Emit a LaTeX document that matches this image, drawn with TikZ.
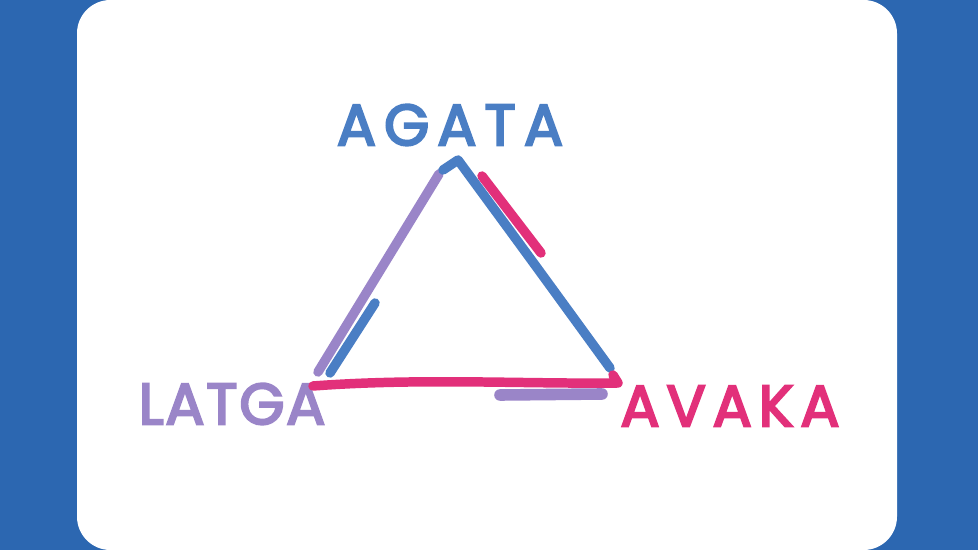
\documentclass[tikz,border=0pt]{standalone}
\usepackage{fontspec}
\usepackage{xcolor}
\usetikzlibrary{positioning}
\newfontfamily\markerfont[FakeBold=3.8]{Poppins}
\definecolor{bgblue}{RGB}{44,103,177}
\definecolor{penblue}{RGB}{74,126,196}
\definecolor{penpurple}{RGB}{154,133,200}
\definecolor{penpink}{RGB}{226,48,122}

\begin{document}
\begin{tikzpicture}[x=0.02cm, y=-0.02cm,
  stroke/.style={line width=5.4pt, line cap=round, line join=round},
  word/.style={font=\markerfont\fontsize{33}{36}\selectfont, inner sep=0pt}]
  % card
  \fill[bgblue] (0,0) rectangle (978,550);
  \fill[white, rounded corners=19pt] (77,0) rectangle (897,550);
  \useasboundingbox (0,0) rectangle (978,550);
  % corners of the triangle
  \coordinate (top) at (458,160);
  \coordinate (left) at (316,384);
  \coordinate (right) at (612,380);
  % labels
  \node[word, text=penblue] (agata) at (450,125) {\addfontfeature{LetterSpace=14}AGATA};
  \node[word, text=penpurple] (latga) at (232,404) {\addfontfeature{LetterSpace=3}LATGA};
  \node[word, text=penpink] (avaka) at (730,406) {\addfontfeature{LetterSpace=12}AVAKA};
  % sides
  \draw[stroke, penpurple] (439,174) -- (318,372);
  \draw[stroke, penblue] (375,303) -- (330,373);
  \draw[stroke, penblue] (443,170) -- (top) .. controls (530,258) .. (610,368);
  \draw[stroke, penpink] (482,176) -- (541,253);
  \draw[stroke, penpink] (313,386) .. controls (420,378) and (520,384) .. (618,383) -- (613,375);
  \draw[stroke, penpurple, line width=6.6pt] (500,395) -- (602,394);
\end{tikzpicture}
\end{document}
